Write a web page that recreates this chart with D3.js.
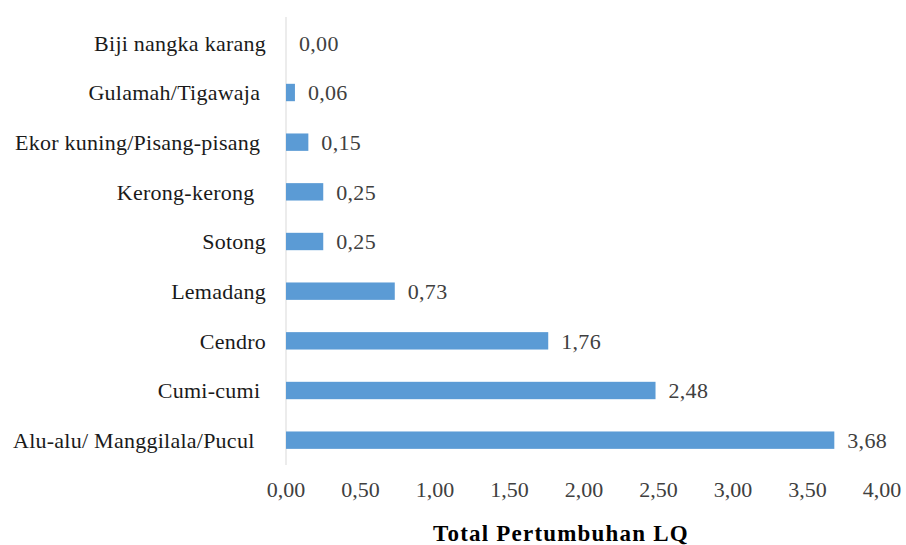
<!DOCTYPE html>
<html><head><meta charset="utf-8">
<script src="https://cdn.jsdelivr.net/npm/d3@7"></script>
<style>body{margin:0;background:#fff}svg{display:block}text{white-space:pre}</style>
</head><body><svg id="c" width="906" height="545" xml:space="preserve"></svg>
<script>
const categories = ["Biji nangka karang","Gulamah/Tigawaja ","Ekor kuning/Pisang-pisang ","Kerong-kerong  ","Sotong","Lemadang","Cendro","Cumi-cumi ","Alu-alu/ Manggilala/Pucul  "];
const values = [0.00,0.06,0.15,0.25,0.25,0.73,1.76,2.48,3.68];
const valueLabels = ["0,00","0,06","0,15","0,25","0,25","0,73","1,76","2,48","3,68"];
const tickValues = [0,0.5,1,1.5,2,2.5,3,3.5,4];
const tickLabels = ["0,00","0,50","1,00","1,50","2,00","2,50","3,00","3,50","4,00"];
const axisTitle = "Total Pertumbuhan LQ";

const FONT = '"Liberation Serif", "Times New Roman", serif';
const svg = d3.select("#c");
const x = d3.scaleLinear().domain([0,4]).range([286,882]);
const y = d3.scaleBand().domain(categories).range([18,465]).paddingInner(0.65).paddingOuter(0.325);

svg.append("line").attr("x1",x(0)).attr("x2",x(0)).attr("y1",17).attr("y2",465)
  .attr("stroke","#d9d9d9").attr("stroke-width",1);

svg.selectAll("rect.bar").data(values).join("rect").attr("class","bar")
  .attr("x",x(0)).attr("y",(d,i)=>y(categories[i]))
  .attr("width",d=>x(d)-x(0)).attr("height",y.bandwidth())
  .attr("fill","#5b9bd5");

svg.selectAll("text.val").data(values).join("text").attr("class","val")
  .attr("x",d=>x(d)+13).attr("y",(d,i)=>y(categories[i])+y.bandwidth()/2)
  .attr("dy","0.35em").attr("font-size",22).attr("fill","#404040")
  .style("font-family",FONT).style("letter-spacing","0.3px")
  .text((d,i)=>valueLabels[i]);

svg.selectAll("text.cat").data(categories).join("text").attr("class","cat")
  .attr("x",266).attr("y",d=>y(d)+y.bandwidth()/2).attr("dy","0.35em")
  .attr("text-anchor","end").attr("font-size",22).attr("fill","#1a1a1a")
  .style("font-family",FONT).style("letter-spacing","0.25px")
  .text(d=>d);

svg.selectAll("text.tick").data(tickValues).join("text").attr("class","tick")
  .attr("x",d=>x(d)).attr("y",497).attr("text-anchor","middle")
  .attr("font-size",22).attr("fill","#404040").style("font-family",FONT)
  .text((d,i)=>tickLabels[i]);

svg.append("text").attr("x",561).attr("y",541).attr("text-anchor","middle")
  .attr("font-size",23).attr("font-weight","bold").attr("fill","#000")
  .style("font-family",FONT).style("letter-spacing","1.2px").text(axisTitle);
</script></body></html>
